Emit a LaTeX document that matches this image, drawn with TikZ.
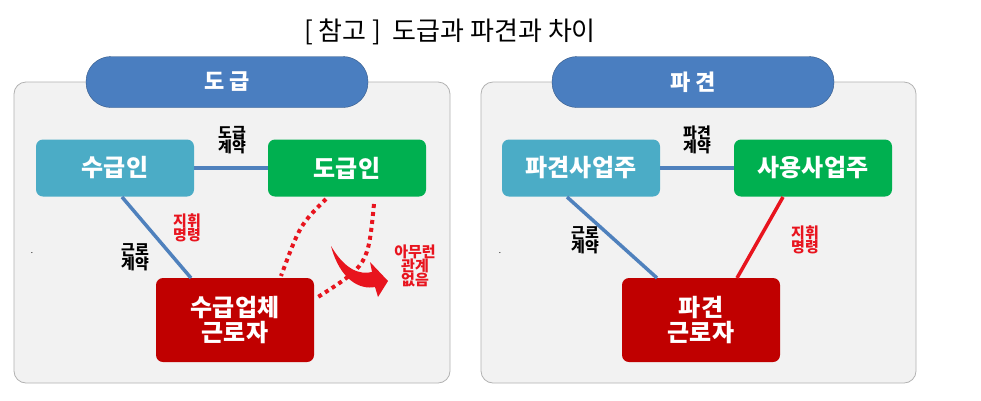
\documentclass[tikz,border=0pt]{standalone}
\usepackage{fontspec}
\setmainfont{Noto Sans CJK KR}
\usetikzlibrary{arrows.meta}
\definecolor{panelgray}{HTML}{F2F2F2}
\definecolor{pillblue}{HTML}{4A7EC0}
\definecolor{cyanbox}{HTML}{4BACC6}
\definecolor{greenbox}{HTML}{00B050}
\definecolor{redbox}{HTML}{C00000}
\definecolor{linkblue}{HTML}{4F81BD}
\definecolor{txtred}{HTML}{E8141E}
\tikzset{
  panel/.style={draw=gray!60,fill=panelgray,rounded corners=12pt,line width=0.8pt},
  pill/.style={fill=pillblue,draw=pillblue!70!black,rounded corners=25pt,text=white,font=\bfseries\fontsize{22}{24}\selectfont,minimum width=282pt,minimum height=51pt},
  rolebox/.style={rounded corners=7pt,text=white,font=\bfseries\fontsize{24}{29}\selectfont,minimum width=158pt,align=center},
  tag/.style={font=\bfseries\fontsize{15}{17}\selectfont,align=center},
  redtag/.style={tag,text=txtred},
  link/.style={linkblue,line width=3.5pt},
  order/.style={txtred,line width=3.5pt},
  dots/.style={txtred,line width=4pt,dash pattern=on 4pt off 4pt}
}
\begin{document}
\begin{tikzpicture}[x=1pt,y=-1pt]
\useasboundingbox[fill=white] (0,0) rectangle (981,400);
\node[font=\fontsize{26}{30}\selectfont] (title) at (450,32) {[ 참고 ]\ \ 도급과 파견과 차이};
% 도급
\draw[panel] (14,82) rectangle (450,383);
\node[pill] (hdrA) at (227,82) {도 급};
\node[rolebox,fill=cyanbox,minimum height=57pt] (sugub) at (115,168) {수급인};
\node[rolebox,fill=greenbox,minimum height=57pt] (dogub) at (347,168) {도급인};
\node[rolebox,fill=redbox,minimum height=84pt] (workA) at (235,320) {수급업체\\[-4pt]근로자};
\draw[link] (sugub) -- (dogub);
\draw[link] (122,197) -- (191,278);
\node[tag] (cA) at (232,140) {도급\\[-3pt]계약};
\node[redtag] (oA) at (187,228) {지휘\\[-3pt]명령};
\node[tag] (lA) at (135,257) {근로\\[-3pt]계약};
\draw[dots] (326,199) .. controls (300,225) .. (281,276);
\draw[dots] (374,204) .. controls (368,265) .. (318,297);
\fill[txtred] (331,246) .. controls (345,270) and (360,275) .. (372,272)
  -- (370,262) -- (388,281) -- (378,297) -- (375,287)
  .. controls (360,290) and (340,280) .. (331,246) -- cycle;
\node[redtag] (noneA) at (415,266) {아무런\\[-3pt]관계\\[-3pt]없음};
\node[font=\fontsize{8}{8}\selectfont] (dotA) at (32,253) {.};
% 파견
\draw[panel] (481,82) rectangle (916,383);
\node[pill] (hdrB) at (693,82) {파 견};
\node[rolebox,fill=cyanbox,minimum height=57pt] (dispatch) at (581,168) {파견사업주};
\node[rolebox,fill=greenbox,minimum height=57pt] (user) at (813,168) {사용사업주};
\node[rolebox,fill=redbox,minimum height=84pt] (workB) at (701,320) {파견\\[-4pt]근로자};
\draw[link] (dispatch) -- (user);
\draw[link] (567,197) -- (657,278);
\draw[order] (783,197) -- (737,278);
\node[tag] (cB) at (697,140) {파견\\[-3pt]계약};
\node[tag] (lB) at (585,240) {근로\\[-3pt]계약};
\node[redtag] (oB) at (805,240) {지휘\\[-3pt]명령};
\node[font=\fontsize{8}{8}\selectfont] (dotB) at (500,253) {.};
\end{tikzpicture}
\end{document}
